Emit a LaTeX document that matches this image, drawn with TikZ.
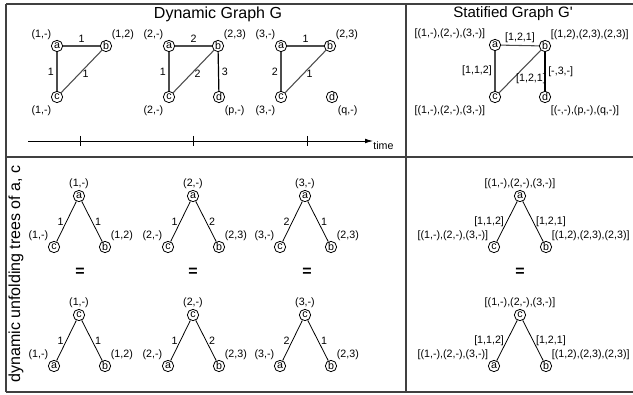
\documentclass[tikz,border=0pt]{standalone}
\usepackage{fontspec}
\setmainfont{Liberation Sans}
\usetikzlibrary{arrows.meta, positioning}

\begin{document}
\begin{tikzpicture}[
    x=0.75pt,
    y=-0.75pt,
    font=\fontsize{8}{9.6}\selectfont,
    vtx/.style={
        circle,
        draw,
        line width=0.6pt,
        inner sep=0pt,
        minimum size=8.5pt,
        font=\fontsize{8}{8}\selectfont
    },
    lbl/.style={
        inner sep=1pt
    },
    wt/.style={
        inner sep=2pt,
        text=black
    },
    gedge/.style={
        draw=black!70,
        line width=0.8pt
    },
    tedge/.style={
        draw=black,
        line width=0.6pt
    },
    frame/.style={
        draw=black!75,
        line width=1.2pt
    },
    head/.style={
        font=\fontsize{12}{14}\selectfont
    },
    eqsign/.style={
        font=\fontsize{12}{14}\selectfont\bfseries
    }
]

\useasboundingbox (0,0) rectangle (633,395);

% Rahmen
\draw[frame] (6,4) -- (633,4);
\draw[frame] (6,392) -- (633,392);
\draw[frame] (6,4) -- (6,392);
\draw[frame] (406,4) -- (406,392);
\draw[frame] (6,157) -- (633,157);

% Titel
\node[head] (tdyn) at (218,14) {Dynamic Graph G};
\node[head, font=\fontsize{11.3}{13}\selectfont] (tsta) at (513,14)
    {Statified Graph G\textquotesingle};
\node[head, rotate=90] (tunf) at (16,274)
    {dynamic unfolding trees of a, c};

% Dynamischer Graph: drei Zeitschritte
\foreach \i/\x/\tla/\tlb/\tlc/\wab/\wac/\wbc in {
    1/57/{(1,-)}/{(1,2)}/{(1,-)}/1/1/1,
    2/169/{(2,-)}/{(2,3)}/{(2,-)}/2/1/2,
    3/281/{(3,-)}/{(2,3)}/{(3,-)}/1/2/1} {
    \node[vtx] (a\i) at (\x,46) {a};
    \node[vtx] (b\i) at ({\x+49},46) {b};
    \node[vtx] (c\i) at (\x,97) {c};
    \node[lbl, above left=0pt of a\i] (la\i) {\tla};
    \node[lbl, above right=0pt of b\i] (lb\i) {\tlb};
    \node[lbl, below left=2pt and 0pt of c\i] (lc\i) {\tlc};
    \draw[gedge] (a\i) -- node[wt, above] {\wab} (b\i);
    \draw[gedge] (a\i) -- node[wt, left] {\wac} (c\i);
    \draw[gedge] (b\i) -- node[wt, pos=0.55, anchor=west] {\wbc} (c\i);
}

\node[vtx] (d2) at (219,97) {d};
\node[lbl, below right=2pt and 0pt of d2] (ld2) {(p,-)};
\draw[black, line width=0.9pt] (b2) -- node[wt, right] {3} (d2);

\node[vtx] (d3) at (332,97) {d};
\node[lbl, below right=2pt and 0pt of d3] (ld3) {(q,-)};

% Zeitachse
\coordinate (t0) at (28,141);
\coordinate (t1) at (373,141);
\draw[-{Latex[length=6pt, width=3.5pt]}, line width=0.6pt] (t0) -- (t1)
    node[below right, inner sep=0pt] (tm) {time};
\foreach \t in {80,193,307}
    \draw[line width=0.6pt] (\t,136) -- (\t,146);

% Stratifizierter Graph
\node[vtx] (sa) at (495,45) {a};
\node[vtx] (sb) at (545,46) {b};
\node[vtx] (sc) at (495,97) {c};
\node[vtx] (sd) at (545,97) {d};
\node[lbl, above left=0pt and 3pt of sa] (lsa) {[(1,-),(2,-),(3,-)]};
\node[lbl, above right=0pt of sb] (lsb) {[(1,2),(2,3),(2,3)]};
\node[lbl, below left=2pt and 3pt of sc] (lsc) {[(1,-),(2,-),(3,-)]};
\node[lbl, below right=2pt and 0pt of sd] (lsd) {[(-,-),(p,-),(q,-)]};
\draw[gedge] (sa) -- node[wt, above] {[1,2,1]} (sb);
\draw[gedge] (sa) -- node[wt, left] {[1,1,2]} (sc);
\draw[gedge] (sb) -- node[wt, pos=0.67, anchor=west] {[1,2,1]} (sc);
\draw[black, line width=0.9pt] (sb) -- node[wt, right] {[-,3,-]} (sd);

% Entfaltungsbaeume je Zeitschritt
\foreach \k/\y/\rt/\lf in {1/196/a/c, 2/315/c/a} {
    \foreach \i/\x/\tlr/\tlb/\wl/\wr in {
        1/79/{(1,-)}/{(1,2)}/1/1,
        2/193/{(2,-)}/{(2,3)}/1/2,
        3/305/{(3,-)}/{(2,3)}/2/1} {
        \node[vtx] (r\k\i) at (\x,\y) {\rt};
        \node[vtx] (l\k\i) at ({\x-25},{\y+51}) {\lf};
        \node[vtx] (q\k\i) at ({\x+26},{\y+51}) {b};
        \node[lbl, above=0pt of r\k\i] (lr\k\i) {\tlr};
        \node[lbl, above left=0pt of l\k\i] (ll\k\i) {\tlr};
        \node[lbl, above right=0pt of q\k\i] (lq\k\i) {\tlb};
        \draw[tedge] (r\k\i) -- node[wt, left] {\wl} (l\k\i);
        \draw[tedge] (r\k\i) -- node[wt, right] {\wr} (q\k\i);
    }
}

% Entfaltungsbaeume des stratifizierten Graphen
\foreach \k/\y/\rt/\lf in {1/196/a/c, 2/315/c/a} {
    \node[vtx] (sr\k) at (520,\y) {\rt};
    \node[vtx] (sl\k) at (494,{\y+51}) {\lf};
    \node[vtx] (sq\k) at (546,{\y+51}) {b};
    \node[lbl, above=0pt of sr\k] (lsr\k) {[(1,-),(2,-),(3,-)]};
    \node[lbl, above left=0pt of sl\k] (lsl\k) {[(1,-),(2,-),(3,-)]};
    \node[lbl, above right=0pt of sq\k] (lsq\k) {[(1,2),(2,3),(2,3)]};
    \draw[tedge] (sr\k) -- node[wt, left] {[1,1,2]} (sl\k);
    \draw[tedge] (sr\k) -- node[wt, right] {[1,2,1]} (sq\k);
}

% Gleichheitszeichen
\foreach \x in {80,193,307,520}
    \node[eqsign] (eq\x) at (\x,272) {=};

\end{tikzpicture}
\end{document}
